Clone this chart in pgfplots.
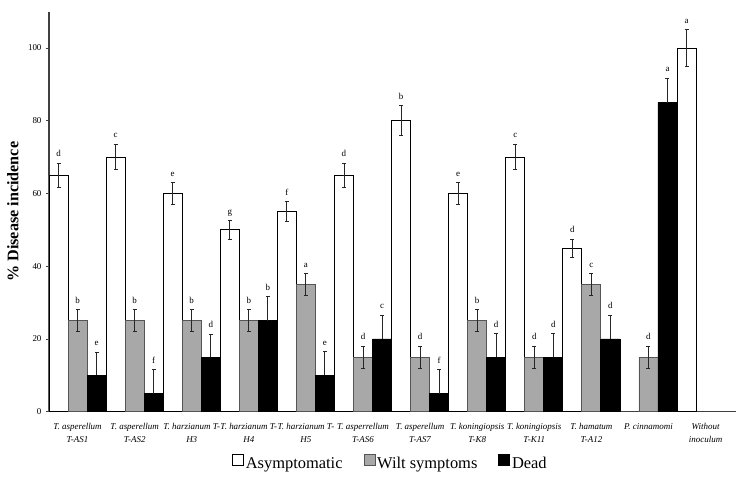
\documentclass[border=0pt]{standalone}
\usepackage{pgfplots}
\pgfplotsset{compat=1.18}
\usepackage{pgfplotstable}
\usepackage{fontspec}
\setmainfont{Liberation Serif}

\pgfplotstableread{
x y e lab
0.5 65 3.3 d
3.5 70 3.5 c
6.5 60 3.0 e
9.5 50 2.5 g
12.5 55 2.8 f
15.5 65 3.3 d
18.5 80 4.1 b
21.5 60 3.0 e
24.5 70 3.5 c
27.5 45 2.5 d
33.5 100 5.0 a
}\asym
\pgfplotstableread{
x y e lab
1.5 25 3 b
4.5 25 3 b
7.5 25 3 b
10.5 25 3 b
13.5 35 3 a
16.5 15 3 d
19.5 15 3 d
22.5 25 3 b
25.5 15 3 d
28.5 35 3 c
31.5 15 3 d
}\wilt
\pgfplotstableread{
x y e lab
2.5 10 6.4 e
5.5 5 6.5 f
8.5 15 6.3 d
11.5 25 6.6 b
14.5 10 6.5 e
17.5 20 6.6 c
20.5 5 6.5 f
23.5 15 6.5 d
26.5 15 6.5 d
29.5 20 6.5 d
32.5 85 6.7 a
}\dead

\definecolor{barGray}{HTML}{A8A8A8}
\definecolor{edgeGray}{HTML}{555555}

\pgfplotsset{
  letterplot/.style={forget plot, bar shift=0pt, draw=none, fill=none,
    nodes near coords, point meta=explicit symbolic,
    every node near coord/.append style={anchor=base, yshift=6.5bp, inner sep=0pt, font=\fontsize{9}{10}\selectfont, text=black}},
}

\begin{document}
\begin{tikzpicture}
\useasboundingbox (-49bp,-65.3bp) rectangle (694bp,411.7bp);
\begin{axis}[
  at={(0,0)}, anchor=south west,
  width=687bp, height=400bp, scale only axis,
  xmin=0, xmax=36.1, ymin=0, ymax=110,
  separate axis lines,
  axis x line*=bottom, axis y line*=left,
  axis line style={-, draw=black!75, line width=1.1bp},
  ybar, bar width=1,
  ytick={0,20,...,100},
  yticklabel style={font=\fontsize{9}{10}\selectfont, xshift=-1bp},
  /pgf/number format/assume math mode=true,
  ytick style={draw=black!75, line width=0.6bp},
  tick align=outside, major tick length=3bp,
  xtick={1.5,4.5,...,34.5},
  xtick style={draw=none},
  xticklabels={{T. asperellum\\T-AS1},{T. asperellum\\T-AS2},{T. harzianum T-\\H3},{T. harzianum T-\\H4},{T. harzianum T-\\H5},{T. asperrellum\\T-AS6},{T. asperellum\\T-AS7},{T. koningiopsis\\T-K8},{T. koningiopsis\\T-K11},{T. hamatum\\T-A12},{P. cinnamomi},{Without\\inoculum}},
  xticklabel style={align=center, font=\itshape\fontsize{9}{12.8}\selectfont, yshift=-5bp},
  ylabel={\textbf{\% Disease incidence}},
  ylabel style={font=\fontsize{16.2}{18}\selectfont, at={(axis description cs:-0.0524,0.5)}, anchor=center},
  legend style={at={(0.497,-0.128)}, anchor=center, draw=none, fill=none,
    legend columns=3, font=\fontsize{16.5}{18}\selectfont,
    /tikz/every even column/.append style={column sep=19bp}},
  legend image code/.code={\draw[#1, line width=0.6bp] (0bp,-1bp) rectangle (11bp,10bp);},
  error bars/error bar style={line width=0.9bp, draw=black!85},
  error bars/error mark options={rotate=90, mark size=2bp, line width=0.9bp, draw=black!85},
]
\addplot[bar shift=0pt, fill=white, draw=black, line width=0.8bp,
  error bars/.cd, y dir=both, y explicit]
  table[x=x, y=y, y error=e] {\asym};
\addlegendentry{Asymptomatic}
\addplot[bar shift=0pt, fill=barGray, draw=edgeGray, line width=0.8bp,
  error bars/.cd, y dir=both, y explicit]
  table[x=x, y=y, y error=e] {\wilt};
\addlegendentry{Wilt symptoms}
\addplot[bar shift=0pt, fill=black, draw=black, line width=0.8bp,
  error bars/.cd, y dir=plus, y explicit]
  table[x=x, y=y, y error=e] {\dead};
\addlegendentry{Dead}
\addplot[letterplot] table[x=x, y expr=\thisrow{y}+\thisrow{e}, meta=lab] {\asym};
\addplot[letterplot] table[x=x, y expr=\thisrow{y}+\thisrow{e}, meta=lab] {\wilt};
\addplot[letterplot] table[x=x, y expr=\thisrow{y}+\thisrow{e}, meta=lab] {\dead};
\end{axis}
\end{tikzpicture}
\end{document}
